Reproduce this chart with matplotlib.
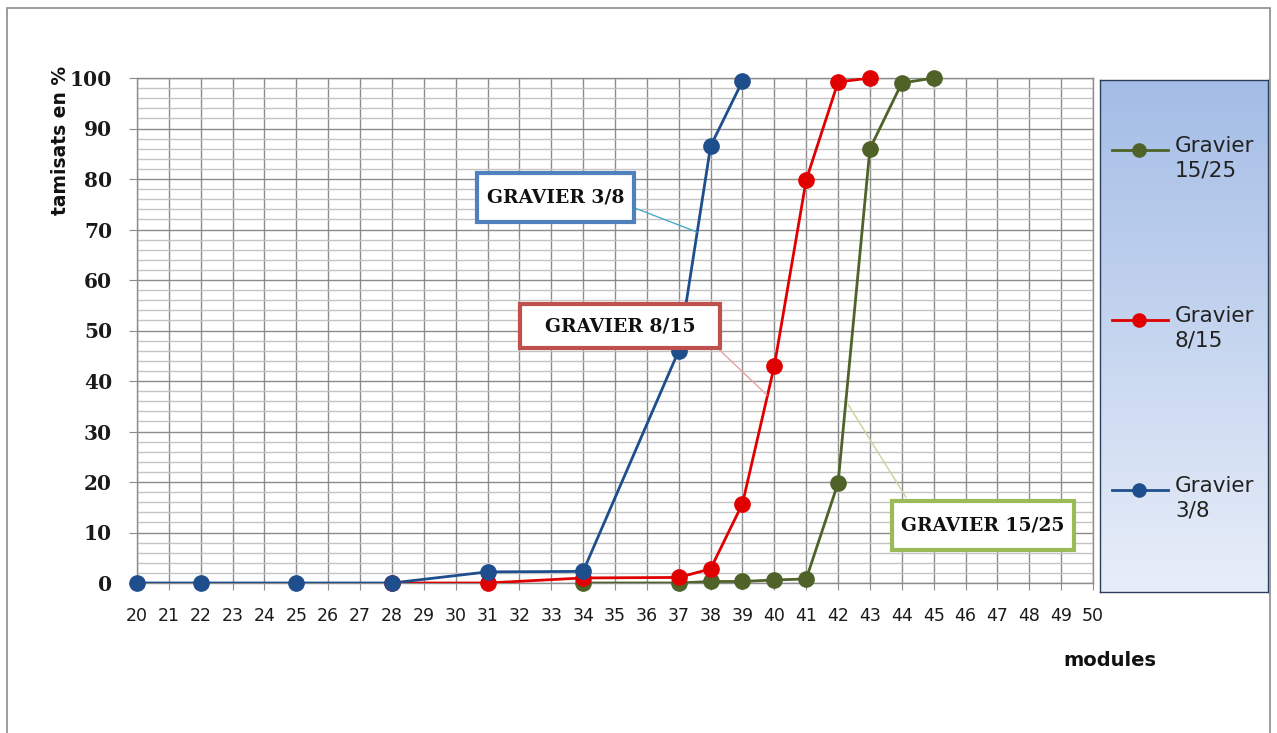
import matplotlib
matplotlib.use("Agg")
import matplotlib.pyplot as plt
import numpy as np
from matplotlib.patches import Rectangle
from matplotlib.colors import LinearSegmentedColormap

# données (modules / tamisats en %)
modules_38 = [20, 22, 25, 28, 31, 34, 37, 38, 39]
tamisats_38 = [0, 0, 0, 0, 2.2, 2.3, 46, 86.5, 99.4]

modules_815 = [28, 31, 34, 37, 38, 39, 40, 41, 42, 43]
tamisats_815 = [0, 0, 1.0, 1.1, 2.8, 15.7, 43, 79.8, 99.2, 100]

modules_1525 = [34, 37, 38, 39, 40, 41, 42, 43, 44, 45]
tamisats_1525 = [0, 0, 0.3, 0.3, 0.6, 0.8, 19.8, 86, 99, 100]

xticks = list(range(20, 51))
yticks = list(range(0, 101, 10))

series = [
    ("Gravier\n15/25", modules_1525, tamisats_1525, "#4f6228"),
    ("Gravier\n8/15", modules_815, tamisats_815, "#e00000"),
    ("Gravier\n3/8", modules_38, tamisats_38, "#1f4e8c"),
]

W, H = 1277, 733
fig = plt.figure(figsize=(W / 100, H / 100), dpi=100)
fig.patch.set_facecolor("white")

# cadre extérieur
fig.patches.append(Rectangle((7 / W, -0.1), (1270 - 7) / W, 1 - 8 / H + 0.1,
                             transform=fig.transFigure, fill=False,
                             edgecolor="#8c8c8c", lw=1.2))

ax = fig.add_axes([137 / W, (H - 583) / H, (1093 - 137) / W, (583 - 78) / H])
ax.set_xlim(20, 50)
ax.set_ylim(0, 100)
ax.set_xticks(xticks)
ax.set_xticklabels([str(v) for v in xticks])
ax.set_yticks(yticks)
ax.set_yticks(np.arange(0, 101, 2), minor=True)
ax.grid(True, which="major", color="#8c8c8c", lw=1.0)
ax.grid(True, which="minor", axis="y", color="#c4c4c4", lw=1.0)
ax.set_axisbelow(True)
for sp in ax.spines.values():
    sp.set_color("#8c8c8c")
    sp.set_linewidth(1.0)
ax.tick_params(axis="x", which="major", direction="out", length=5, color="#8c8c8c",
               labelsize=12.5, pad=12, labelcolor="#1a1a1a")
ax.tick_params(axis="y", which="major", direction="out", length=6, color="#8c8c8c",
               pad=12)
ax.tick_params(axis="y", which="minor", length=0)
for lab in ax.get_yticklabels():
    lab.set_fontfamily("DejaVu Serif")
    lab.set_fontweight("bold")
    lab.set_fontsize(14.5)
    lab.set_color("#1a1a1a")

for name, xs, ys, col in series:
    ax.plot(xs, ys, "-", color=col, lw=2.0, zorder=3)
    ax.plot(xs, ys, "o", color=col, ms=11, clip_on=False, zorder=4)

# étiquettes encadrées
boxes = [
    ("GRAVIER 3/8", (30.67, 71.5, 35.60, 81.2), "#4f81bd", "#4bacc6",
     (35.60, 74.3), (37.57, 69.5)),
    ("GRAVIER 8/15", (32.02, 46.5, 38.29, 55.2), "#c0504d", "#e6a3a1",
     (38.29, 46.1), (39.77, 37.2)),
    ("GRAVIER 15/25", (43.69, 6.5, 49.40, 16.2), "#9bbb59", "#c3d69b",
     (44.13, 17.0), (42.31, 35.4)),
]
for txt, (x0, y0, x1, y1), ec, lc, p0, p1 in boxes:
    ax.annotate("", xy=p1, xytext=p0,
                arrowprops=dict(arrowstyle="-", color=lc, lw=1.0,
                                shrinkA=0, shrinkB=0), zorder=5)
    ax.add_patch(Rectangle((x0, y0), x1 - x0, y1 - y0, facecolor="white",
                           edgecolor=ec, lw=3, zorder=6))
    ax.text((x0 + x1) / 2, (y0 + y1) / 2, txt, ha="center", va="center",
            fontsize=13.5, fontweight="bold", family="DejaVu Serif",
            color="#111111", zorder=7)

fig.text(60 / W, 1 - 140 / H, "tamisats en %", rotation=90, ha="center",
         va="center", fontsize=13.5, fontweight="bold", color="#111111")
fig.text(1110 / W, 1 - 660 / H, "modules", ha="center", va="center",
         fontsize=14, fontweight="bold", color="#111111")

# légende avec fond dégradé
lx0, lx1, ly0, ly1 = 1100, 1268, 80, 592
lax = fig.add_axes([lx0 / W, (H - ly1) / H, (lx1 - lx0) / W, (ly1 - ly0) / H])
lax.set_xlim(0, lx1 - lx0)
lax.set_ylim(ly1 - ly0, 0)
grad = LinearSegmentedColormap.from_list("g", ["#a4bde6", "#e8eef9"])
lax.imshow(np.linspace(0, 1, 256).reshape(-1, 1), cmap=grad, aspect="auto",
           extent=(0, lx1 - lx0, ly1 - ly0, 0), zorder=0)
lax.set_xticks([])
lax.set_yticks([])
for sp in lax.spines.values():
    sp.set_color("#2b3f5c")
    sp.set_linewidth(1.0)
for i, (name, xs, ys, col) in enumerate(series):
    yy = 70 + 170 * i
    lax.plot([12, 68], [yy, yy], "-", color=col, lw=2.0)
    lax.plot([39], [yy], "o", color=col, ms=9.5)
    lax.text(75, yy - 14, name, ha="left", va="top", fontsize=15.5,
             color="#222222", linespacing=1.3)

fig.savefig("out.png", dpi=100)
